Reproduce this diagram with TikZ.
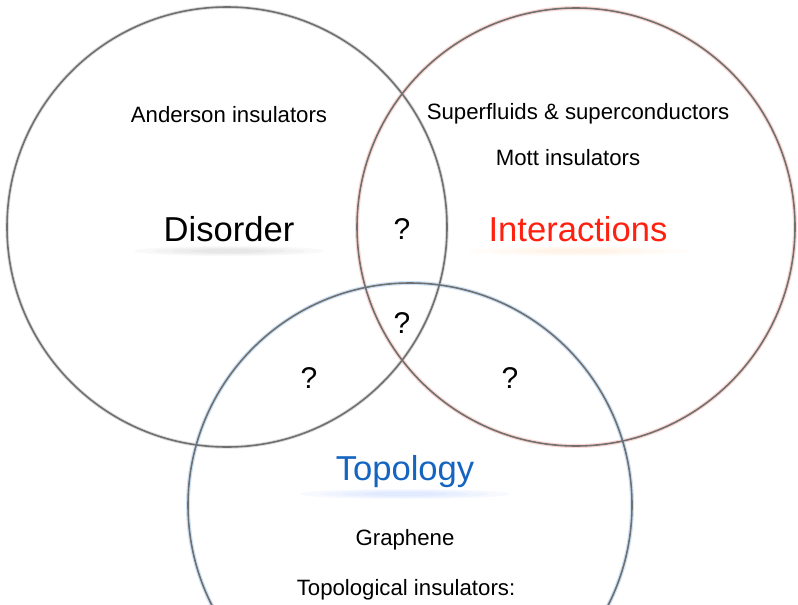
\documentclass[tikz,border=0pt]{standalone}
\usepackage{fontspec}
\setmainfont{Liberation Sans}
\definecolor{glowR}{RGB}{250,215,210}
\definecolor{glowB}{RGB}{205,225,245}
\definecolor{glowG}{RGB}{220,220,220}
\definecolor{ringC}{RGB}{112,112,112}
\begin{document}
\begin{tikzpicture}[x=1pt,y=-1pt,
  ring/.style={draw=ringC, line width=1.6pt},
  glowred/.style={draw=glowR, line width=4pt},
  glowblue/.style={draw=glowB, line width=4pt},
  glowgray/.style={draw=glowG, line width=3.5pt},
  small/.style={font=\fontsize{22.2}{26}\selectfont, text=black, inner sep=0pt},
  big/.style={font=\fontsize{34.6}{40}\selectfont, inner sep=0pt},
  qm/.style={font=\fontsize{30}{34}\selectfont, text=black, inner sep=0pt}]
\useasboundingbox (0,0) rectangle (798,605);
\clip (0,0) rectangle (798,605);
% label shadows
\foreach \s in {1.0,0.8,0.6,0.4}{
  \fill[black, opacity=0.022] (229,251) ellipse ({95*\s} and {5*\s});
  \fill[orange, opacity=0.025] (578,251) ellipse ({110*\s} and {5*\s});
  \fill[blue!70!cyan, opacity=0.03] (405,494) ellipse ({105*\s} and {5*\s});
}
% circle glows
\draw[glowgray] (227,227) circle (220);
\draw[glowred] (576,227) circle (219);
\draw[glowblue] (410,505) circle (222);
% circles
\draw[ring] (227,227) circle (220);
\draw[ring] (576,227) circle (219);
\draw[ring] (410,505) circle (222);
% labels
\node[small] (anderson) at (229,115) {Anderson insulators};
\node[big, text=black] (disorder) at (229,229) {Disorder};
\node[small] (superfl) at (578,114) {Superfluids \& superconductors};
\node[small] (mott) at (568,158) {Mott insulators};
\node[big, text={rgb,255:red,255;green,32;blue,16}] (interact) at (578,229) {Interactions};
\node[big, text={rgb,255:red,21;green,101;blue,192}] (topo) at (405,472) {Topology};
\node[small] (graphene) at (405,540) {Graphene};
\node[small] (topins) at (406,590) {Topological insulators:};
\node[qm] (q1) at (402,229) {?};
\node[qm] (q2) at (402,323) {?};
\node[qm] (q3) at (309,378) {?};
\node[qm] (q4) at (510,378) {?};
\end{tikzpicture}
\end{document}
